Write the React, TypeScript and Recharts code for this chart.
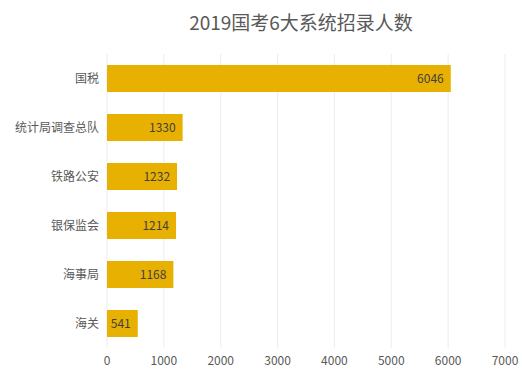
import { BarChart, Bar, XAxis, YAxis, CartesianGrid, LabelList } from 'recharts';

const categories = ['国税', '统计局调查总队', '铁路公安', '银保监会', '海事局', '海关'];
const hires = [6046, 1330, 1232, 1214, 1168, 541];
const xTicks = [0, 1000, 2000, 3000, 4000, 5000, 6000, 7000];

const data = categories.map((name, i) => ({ name, value: hires[i] }));

const FONT = '"Noto Sans CJK SC", "Microsoft YaHei", sans-serif';

export default function App() {
  return (
    <div style={{ position: 'absolute', left: 0, top: 0, width: 522, height: 374, background: '#fff', fontFamily: FONT }}>
      <div
        style={{
          position: 'absolute',
          left: 102,
          width: 398,
          top: 8,
          textAlign: 'center',
          fontSize: 19,
          color: '#595959'
        }}
      >
        2019国考6大系统招录人数
      </div>
      <BarChart
        width={522}
        height={374}
        data={data}
        layout="vertical"
        margin={{ top: 54, right: 17, left: 0, bottom: 6 }}
      >
        <CartesianGrid horizontal={false} stroke="#ececec" />
        <XAxis
          type="number"
          domain={[0, 7000]}
          ticks={xTicks}
          axisLine={false}
          tickLine={false}
          height={20}
          tick={{ fontSize: 12, fill: '#595959', fontFamily: FONT }}
        />
        <YAxis
          dataKey="name"
          type="category"
          width={107}
          axisLine={false}
          tickLine={false}
          tick={{ fontSize: 12, fill: '#595959', fontFamily: FONT }}
        />
        <Bar dataKey="value" fill="#E8B000" barSize={27} isAnimationActive={false}>
          <LabelList
            dataKey="value"
            position="insideRight"
            offset={7}
            style={{ fontSize: 12, fill: '#404040', fontFamily: FONT }}
          />
        </Bar>
      </BarChart>
    </div>
  );
}
